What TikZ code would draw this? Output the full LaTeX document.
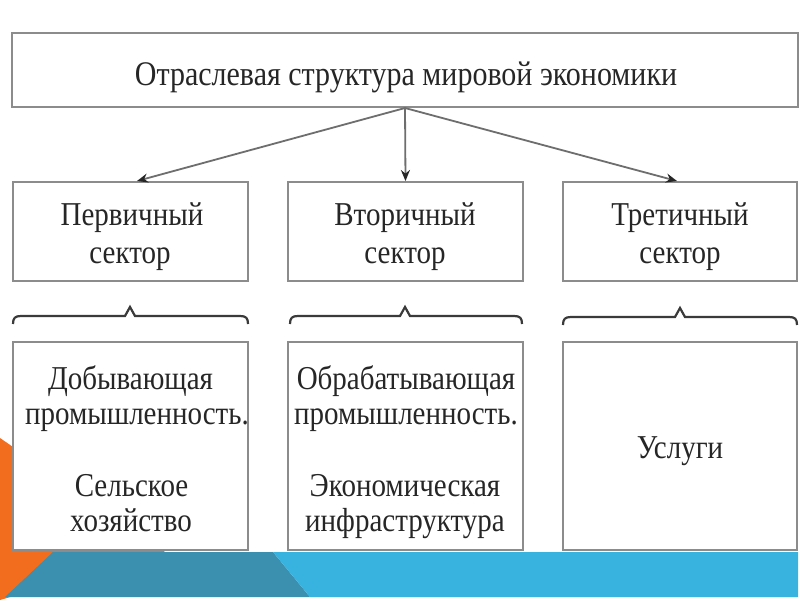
\documentclass[tikz,border=0pt]{standalone}
\usepackage{fontspec}
\setmainfont{Liberation Serif}
\usepackage{graphicx}
\usetikzlibrary{arrows.meta}
\definecolor{orangec}{HTML}{F36D1E}
\definecolor{tealc}{HTML}{3A90AE}
\definecolor{bluec}{HTML}{38B2DF}
\definecolor{boxc}{HTML}{8C8C8C}
\definecolor{arrc}{HTML}{6E6E6E}
\definecolor{bracec}{HTML}{3A3A3A}
\definecolor{textc}{HTML}{262626}
\newcommand\vs[1]{\scalebox{1}[1.15]{#1}}
\newcommand\mybrace[4]{%
  \draw[bracestyle] (#1,#4+8) .. controls (#1,#4+2) and (#1+2,#4) .. (#1+8,#4)
    -- (#3-5,#4) -- (#3,#4-9) -- (#3+5,#4) -- (#2-8,#4)
    .. controls (#2-2,#4) and (#2,#4+2) .. (#2,#4+8);}
\begin{document}
\begin{tikzpicture}[x=1pt,y=-1pt,
  box/.style={draw=boxc, line width=2pt, fill=white, inner sep=0pt},
  arr/.style={draw=arrc, line width=1.8pt, -{Stealth[length=11pt,width=9pt,color=black!85]}},
  bracestyle/.style={draw=bracec, line width=2.2pt, line join=miter},
  txt/.style={font=\fontsize{29}{29}\selectfont, text=textc, inner sep=0pt, anchor=base},
  ttl/.style={font=\fontsize{30}{30}\selectfont, text=textc, inner sep=0pt, anchor=base}]
\useasboundingbox (0,0) rectangle (800,600);
\fill[white] (0,0) rectangle (800,600);
% bottom band
\fill[orangec] (0,438) -- (165,552) -- (0,600) -- cycle;
\fill[tealc] (53,552) -- (273,552) -- (310,597) -- (5,597) -- cycle;
\fill[bluec] (273,552) -- (798,552) -- (798,597) -- (310,597) -- cycle;
% boxes
\node[box, minimum width=786pt, minimum height=74pt] (top) at (405,70) {};
\node[box, minimum width=235pt, minimum height=99pt] (s1) at (130.5,231.5) {};
\node[box, minimum width=235pt, minimum height=99pt] (s2) at (405.5,231.5) {};
\node[box, minimum width=234pt, minimum height=99pt] (s3) at (680,231.5) {};
\node[box, minimum width=235pt, minimum height=208pt] (b1) at (130.5,446) {};
\node[box, minimum width=235pt, minimum height=208pt] (b2) at (405.5,446) {};
\node[box, minimum width=234pt, minimum height=208pt] (b3) at (680,446) {};
% arrows
\draw[arr] (top.south) -- ([xshift=6.5pt]s1.north);
\draw[arr] (top.south) -- (s2.north);
\draw[arr] (top.south) -- ([xshift=-3pt]s3.north);
% braces
\mybrace{13}{248}{130}{316}
\mybrace{290}{522}{405}{316}
\mybrace{563}{797}{680}{317}
% texts
\node[ttl] (t0) at (406,85) {\vs{Отраслевая структура мировой экономики}};
\node[txt] (a1) at (132,225) {\vs{Первичный}};
\node[txt] (a2) at (130,263) {\vs{сектор}};
\node[txt] (c1) at (405,225) {\vs{Вторичный}};
\node[txt] (c2) at (405,263) {\vs{сектор}};
\node[txt] (e1) at (680,225) {\vs{Третичный}};
\node[txt] (e2) at (680,263) {\vs{сектор}};
\node[txt] (l1) at (130.5,389) {\vs{Добывающая}};
\node[txt] (l2) at (137,424) {\vs{промышленность.}};
\node[txt] (l3) at (131.5,496) {\vs{Сельское}};
\node[txt] (l4) at (131,531) {\vs{хозяйство}};
\node[txt] (m1) at (406,389) {\vs{Обрабатывающая}};
\node[txt] (m2) at (406,424) {\vs{промышленность.}};
\node[txt] (m3) at (405,496) {\vs{Экономическая}};
\node[txt] (m4) at (405,531) {\vs{инфраструктура}};
\node[txt] (r1) at (680,458) {\vs{Услуги}};
\end{tikzpicture}
\end{document}
